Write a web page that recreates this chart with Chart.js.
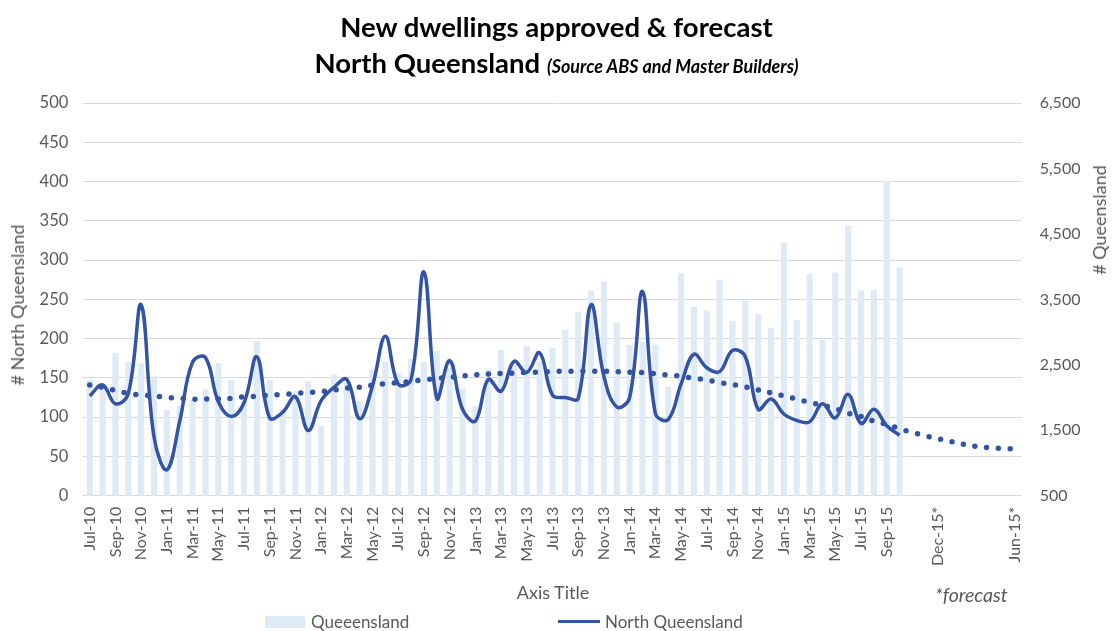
<!DOCTYPE html>
<html>
<head>
<meta charset="utf-8">
<title>New dwellings approved &amp; forecast</title>
<script src="https://cdn.jsdelivr.net/npm/chart.js@4.4.1/dist/chart.umd.min.js"></script>
<style>
  html, body { margin: 0; padding: 0; background: #fff; }
  #wrap { position: relative; width: 1113px; height: 631px; font-family: Lato, "Open Sans", sans-serif; }
  #chart { position: absolute; left: 0; top: 0; }
  .txt { position: absolute; white-space: nowrap; color: #595959; }
  #t1 { left: 0; width: 1113px; text-align: center; top: 10px; font-size: 27.5px; font-weight: 700; color: #000; }
  #t2 { left: 0; width: 1113px; text-align: center; top: 46px; font-size: 27.5px; font-weight: 700; color: #000; }
  #t2 span { font-size: 18px; font-style: italic; }
  #yl { left: 17px; top: 305px; font-size: 18px; transform: translate(-50%, -50%) rotate(-90deg); }
  #yr { left: 1099px; top: 220px; font-size: 18px; transform: translate(-50%, -50%) rotate(-90deg); }
  #xt { left: 553px; top: 592px; font-size: 18px; transform: translate(-50%, -50%); }
  #fc { left: 935px; top: 583px; font-size: 19.5px; font-style: italic; }
  .sw { position: absolute; }
  #lg1box { left: 265px; top: 616px; width: 40px; height: 12px; background: rgb(222,235,247); }
  #lg1 { left: 311px; top: 611px; font-size: 17px; }
  #lg2line { left: 558px; top: 620px; width: 42px; height: 3px; background: #3353A5; }
  #lg2 { left: 605px; top: 611px; font-size: 17px; }
</style>
</head>
<body>
<div id="wrap">
  <canvas id="chart" width="1113" height="631"></canvas>
  <div class="txt" id="t1">New dwellings approved &amp; forecast</div>
  <div class="txt" id="t2">North Queensland <span>(Source ABS and Master Builders)</span></div>
  <div class="txt" id="yl"># North Queensland</div>
  <div class="txt" id="yr"># Queensland</div>
  <div class="txt" id="xt">Axis Title</div>
  <div class="txt" id="fc">*forecast</div>
  <div class="sw" id="lg1box"></div>
  <div class="txt" id="lg1">Queeensland</div>
  <div class="sw" id="lg2line"></div>
  <div class="txt" id="lg2">North Queensland</div>
</div>
<script>
// Monthly categories Jul-10 .. Oct-15, followed by the forecast months
const months = [
  'Jul-10','Aug-10','Sep-10','Oct-10','Nov-10','Dec-10',
  'Jan-11','Feb-11','Mar-11','Apr-11','May-11','Jun-11','Jul-11','Aug-11','Sep-11','Oct-11','Nov-11','Dec-11',
  'Jan-12','Feb-12','Mar-12','Apr-12','May-12','Jun-12','Jul-12','Aug-12','Sep-12','Oct-12','Nov-12','Dec-12',
  'Jan-13','Feb-13','Mar-13','Apr-13','May-13','Jun-13','Jul-13','Aug-13','Sep-13','Oct-13','Nov-13','Dec-13',
  'Jan-14','Feb-14','Mar-14','Apr-14','May-14','Jun-14','Jul-14','Aug-14','Sep-14','Oct-14','Nov-14','Dec-14',
  'Jan-15','Feb-15','Mar-15','Apr-15','May-15','Jun-15','Jul-15','Aug-15','Sep-15','Oct-15'
];
const forecastMonths = ['', '', 'Dec-15*', '', '', '', '', '', 'Jun-15*'];
const categories = months.concat(forecastMonths);

// Queensland dwellings approved (right axis)
const queensland = [
  2267, 2216, 2680, 2540, 2525, 2325, 1810, 1875, 1965, 2125, 2525, 2272,
  1960, 2865, 2272, 1825, 2092, 2247, 1567, 2357, 2230, 1952, 2432, 2550,
  2372, 2588, 2542, 2713, 2450, 2138, 1872, 2445, 2725, 2500, 2790, 2550,
  2762, 3033, 3310, 3635, 3772, 3143, 2805, 2848, 2802, 2165, 3897, 3388,
  3322, 3805, 3169, 3484, 3276, 3062, 4360, 3186, 3892, 2884, 3912, 4623,
  3632, 3648, 5310, 3989
];

// North Queensland dwellings approved (left axis)
const northQueensland = [
  127, 141, 117, 130, 243, 75, 33, 95, 170, 176, 120, 101,
  118, 177, 99, 106, 126, 83, 121, 138, 148, 98, 140, 203,
  142, 148, 285, 124, 172, 110, 95, 148, 133, 171, 157, 182,
  128, 125, 124, 243, 152, 113, 125, 260, 105, 97, 142, 180,
  163, 158, 185, 177, 110, 123, 104, 96, 94, 117, 99, 129,
  92, 110, 89, 77
];

// Trend and forecast for North Queensland (left axis)
const nqTrend = [
  141, 138, 134, 130.5, 128, 127, 125, 124, 123, 123, 123, 124,
  126, 126.5, 128, 129, 130, 131.5, 132.5, 134.5, 137, 138, 140.5, 142.8,
  144, 145.5, 147.5, 149.3, 150.8, 152.5, 153.8, 155, 155.6, 156, 157, 157.4,
  158, 158.5, 158.5, 158.5, 158.5, 158, 157.3, 156.7, 155.3, 153.7, 152, 149.6,
  147.3, 144, 141.6, 138.4, 134.7, 131, 127, 123, 119, 115, 111, 105,
  101, 95, 90.6, 85.3, 80.5, 76.3, 72.4, 69, 65.5, 62.5, 61.2, 60, 60
];

const leftTicks = { min: 0, max: 500, step: 50 };
const rightTicks = { min: 500, max: 6500, step: 1000 };

const lineBlue = '#3353A5';
const barBlue = 'rgb(222,235,247)';
const tickGrey = '#595959';

new Chart(document.getElementById('chart'), {
  type: 'bar',
  data: {
    labels: categories,
    datasets: [
      {
        type: 'line',
        label: 'Trend',
        data: nqTrend,
        yAxisID: 'yLeft',
        borderColor: lineBlue,
        borderWidth: 5.5,
        borderDash: [0, 11.8],
        borderCapStyle: 'round',
        pointRadius: 0,
        tension: 0.4,
        fill: false,
        order: 1
      },
      {
        type: 'line',
        label: 'North Queensland',
        data: northQueensland,
        yAxisID: 'yLeft',
        borderColor: lineBlue,
        borderWidth: 3.5,
        pointRadius: 0,
        tension: 0.4,
        fill: false,
        order: 2
      },
      {
        type: 'bar',
        label: 'Queeensland',
        data: queensland,
        yAxisID: 'yRight',
        backgroundColor: barBlue,
        borderWidth: 0,
        barPercentage: 0.48,
        categoryPercentage: 1,
        order: 3
      }
    ]
  },
  options: {
    responsive: false,
    animation: false,
    events: [],
    layout: { padding: { top: 103, left: 0, right: 0, bottom: 0 } },
    plugins: {
      legend: { display: false },
      title: { display: false },
      tooltip: { enabled: false }
    },
    scales: {
      x: {
        offset: true,
        grid: { display: false, drawTicks: false },
        border: { display: false },
        ticks: {
          autoSkip: false,
          minRotation: 90,
          maxRotation: 90,
          padding: 11,
          color: tickGrey,
          font: { family: 'Lato', size: 16 },
          callback: function (value, index) {
            return index % 2 === 0 ? categories[index] : '';
          }
        },
        afterFit: function (scale) { scale.height = 135.3; }
      },
      yLeft: {
        position: 'left',
        min: leftTicks.min,
        max: leftTicks.max,
        grid: { color: '#D9D9D9', lineWidth: 1, drawTicks: false },
        border: { display: false },
        ticks: {
          stepSize: leftTicks.step,
          padding: 15,
          color: tickGrey,
          font: { family: 'Lato', size: 16.5 }
        },
        afterFit: function (scale) { scale.width = 83.3; }
      },
      yRight: {
        position: 'right',
        min: rightTicks.min,
        max: rightTicks.max,
        grid: { display: false, drawTicks: false },
        border: { display: false },
        ticks: {
          stepSize: rightTicks.step,
          padding: 18,
          color: tickGrey,
          font: { family: 'Lato', size: 16 },
          callback: function (v) { return Number(v).toLocaleString('en-US'); }
        },
        afterFit: function (scale) { scale.width = 91.3; }
      }
    }
  }
});
</script>
</body>
</html>
